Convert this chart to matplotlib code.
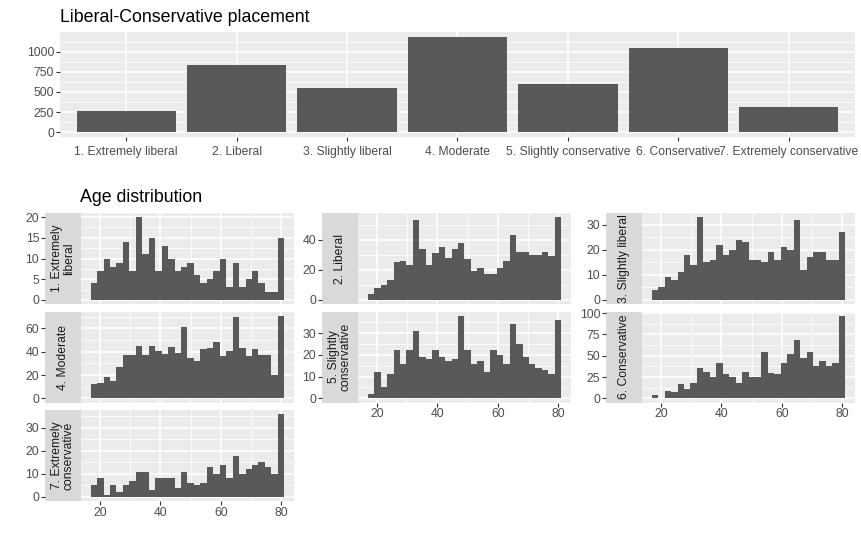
import numpy as np
import matplotlib.pyplot as plt
from matplotlib.ticker import MultipleLocator

plt.rcParams['font.family'] = ['Liberation Sans', 'DejaVu Sans']

# --- data ---
ideology = ['1. Extremely liberal', '2. Liberal', '3. Slightly liberal', '4. Moderate',
            '5. Slightly conservative', '6. Conservative', '7. Extremely conservative']
placement_counts = [265, 835, 550, 1185, 600, 1045, 315]

strip_labels = ['1. Extremely\nliberal', '2. Liberal', '3. Slightly liberal', '4. Moderate',
                '5. Slightly\nconservative', '6. Conservative', '7. Extremely\nconservative']

# ages 18..80 binned into 30 bins (ggplot default)
age_min, age_max, n_bins = 18, 80, 30

age_ext_liberal = [4, 7, 10, 8, 9, 14, 7, 20, 11, 15, 7, 13, 10, 7, 8,
                   9, 6, 4, 5, 7, 10, 3, 9, 3, 5, 7, 4, 2, 2, 15]
age_liberal = [4, 8, 10, 13, 25, 26, 23, 53, 34, 23, 31, 35, 28, 34, 38,
               27, 19, 21, 17, 17, 21, 26, 43, 32, 32, 30, 30, 32, 29, 55]
age_sl_liberal = [4, 5, 9, 8, 11, 18, 14, 33, 15, 16, 22, 18, 20, 24, 23,
                  16, 16, 15, 19, 16, 21, 20, 32, 12, 17, 19, 19, 16, 16, 27]
age_moderate = [12, 13, 18, 15, 27, 37, 37, 45, 37, 45, 41, 38, 44, 39, 61,
                35, 32, 42, 43, 48, 36, 41, 70, 43, 36, 42, 37, 37, 20, 71]
age_sl_conservative = [2, 12, 5, 11, 22, 16, 22, 31, 19, 18, 22, 19, 17, 18, 38,
                       22, 16, 17, 12, 22, 20, 16, 34, 25, 19, 16, 14, 13, 11, 36]
age_conservative = [4, 1, 9, 8, 17, 11, 18, 36, 31, 25, 42, 28, 25, 18, 31,
                    25, 25, 54, 30, 29, 41, 52, 69, 47, 54, 38, 44, 38, 42, 97]
age_ext_conservative = [5, 8, 1, 5, 2, 5, 7, 11, 11, 3, 8, 8, 8, 4, 11,
                        6, 5, 6, 13, 10, 14, 8, 18, 10, 12, 14, 15, 13, 10, 36]

age_counts = [age_ext_liberal, age_liberal, age_sl_liberal, age_moderate,
              age_sl_conservative, age_conservative, age_ext_conservative]
y_steps = [5, 20, 10, 20, 10, 25, 10]

W, H = 862, 546
fig = plt.figure(figsize=(W / 100, H / 100), dpi=100)

BAR = '#595959'
TXT = '#4D4D4D'


def add_px_axes(left, top, right, bottom):
    return fig.add_axes([left / W, 1 - bottom / H, (right - left) / W, (bottom - top) / H])


def style_panel(ax):
    ax.set_facecolor('#EBEBEB')
    for s in ax.spines.values():
        s.set_visible(False)
    ax.grid(True, which='major', color='white', lw=1.1)
    ax.grid(True, which='minor', color='white', lw=0.55)
    ax.set_axisbelow(True)
    ax.tick_params(which='major', length=2.7, width=0.8, color='#333333',
                   labelsize=8.7, labelcolor=TXT, pad=1.5)
    ax.tick_params(which='minor', length=0)


# --- top: bar chart ---
ax = add_px_axes(60, 32, 855, 137)
style_panel(ax)
xpos = np.arange(len(ideology))
ax.bar(xpos, placement_counts, width=0.9, color=BAR)
ax.set_xlim(-0.6, len(ideology) - 0.4)
top = max(placement_counts)
ax.set_ylim(-0.05 * top, 1.05 * top)
ax.yaxis.set_major_locator(MultipleLocator(250))
ax.yaxis.set_minor_locator(MultipleLocator(125))
ax.set_xticks(xpos)
ax.set_xticklabels(ideology)
ax.tick_params(axis='x', pad=4)
fig.text(60 / W, 1 - 17 / H, 'Liberal-Conservative placement', fontsize=12.8,
         va='center', ha='left', color='black')

# --- bottom: age histograms by group ---
edges = np.linspace(age_min, age_max, n_bins)
binw = (age_max - age_min) / (n_bins - 1)
centers = edges
xlo = age_min - binw / 2
xhi = age_max + binw / 2
pad = 0.05 * (xhi - xlo)

col_strip = [(45, 81), (322, 358), (606, 642)]
col_right = [294, 571, 855]
rows = [(213, 304), (311.5, 402.5), (410, 501)]

for i, counts in enumerate(age_counts):
    r, c = divmod(i, 3)
    sl, sr = col_strip[c]
    t, b = rows[r]
    ymax = max(counts)
    ylim = (-0.05 * ymax, 1.05 * ymax)

    ax = add_px_axes(sr, t, col_right[c], b)
    style_panel(ax)
    ax.bar(centers, counts, width=binw, color=BAR, linewidth=0)
    ax.set_xlim(xlo - pad, xhi + pad)
    ax.set_ylim(*ylim)
    ax.xaxis.set_major_locator(MultipleLocator(20))
    ax.xaxis.set_minor_locator(MultipleLocator(10))
    ax.yaxis.set_major_locator(MultipleLocator(y_steps[i]))
    ax.yaxis.set_minor_locator(MultipleLocator(y_steps[i] / 2))
    ax.tick_params(axis='y', left=False, labelleft=False)
    if i + 3 < len(age_counts):
        ax.tick_params(axis='x', bottom=False, labelbottom=False)

    # strip on the left, carrying the y axis
    st = add_px_axes(sl, t, sr, b)
    st.set_facecolor('#D9D9D9')
    for s in st.spines.values():
        s.set_visible(False)
    st.set_xticks([])
    st.set_ylim(*ylim)
    st.yaxis.set_major_locator(MultipleLocator(y_steps[i]))
    st.tick_params(axis='y', length=2.7, width=0.8, color='#333333',
                   labelsize=8.7, labelcolor=TXT, pad=1.5)
    st.text(0.5, 0.5, strip_labels[i], rotation=90, ha='center', va='center',
            fontsize=8.7, color='#1A1A1A', transform=st.transAxes,
            linespacing=0.95, multialignment='center')

fig.text(80 / W, 1 - 198 / H, 'Age distribution', fontsize=12.8,
         va='center', ha='left', color='black')

fig.savefig('out.png', dpi=100)
